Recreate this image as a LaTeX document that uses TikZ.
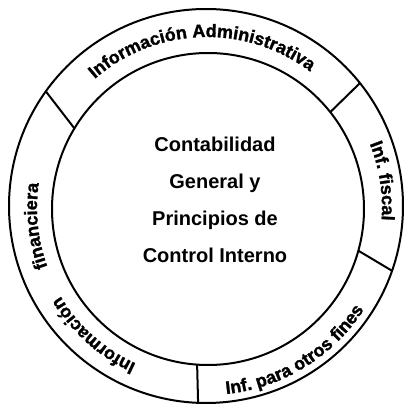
\documentclass[tikz,border=0pt]{standalone}
\usepackage{fontspec}
\setmainfont{Liberation Sans}
\newfontfamily\ringfam{Liberation Sans}[UprightFont={* Bold}, FakeBold=1.5]
\usetikzlibrary{decorations.text}
\begin{document}
\begin{tikzpicture}[x=1pt,y=1pt,
  ring/.style={line width=2pt},
  divider/.style={line width=2pt},
  arctext/.style={decorate, decoration={text along path, text align=center,
    text={|\ringfam\fontsize{18}{18}\selectfont|#1}}}]
\useasboundingbox (0,0) rectangle (404,405);
\coordinate (O) at (206,199);
\coordinate (I) at (208,196);
\coordinate (T) at (207,197);
% circles
\draw[ring] (O) circle[radius=197];
\draw[ring] (I) circle[radius=156];
% dividers
\coordinate (d1o) at ([shift={(144.4:197)}]O);
\coordinate (d1i) at ([shift={(148.9:156)}]I);
\coordinate (d2o) at ([shift={(38.6:197)}]O);
\coordinate (d2i) at ([shift={(38.4:156)}]I);
\coordinate (d3o) at ([shift={(-19.2:197)}]O);
\coordinate (d3i) at ([shift={(-15.5:156)}]I);
\coordinate (d4o) at ([shift={(-92.3:197)}]O);
\coordinate (d4i) at ([shift={(-94:156)}]I);
\draw[divider] (d1o) -- (d1i);
\draw[divider] (d2o) -- (d2i);
\draw[divider] (d3o) -- (d3i);
\draw[divider] (d4o) -- (d4i);
% ring texts
\path[arctext={Información Administrativa}]
  ([shift={(137.5:171)}]T) arc[start angle=137.5, end angle=46.5, radius=171];
\path[arctext={Inf. fiscal}]
  ([shift={(23:175)}]T) arc[start angle=23, end angle=-5.5, radius=175];
\path[arctext={Inf. para otros fines}]
  ([shift={(-87.5:187)}]T) arc[start angle=-87.5, end angle=-29.5, radius=187];
\path[arctext={Información}]
  ([shift={(248:171)}]T) arc[start angle=248, end angle=208.5, radius=171];
\path[arctext={financiera}]
  ([shift={(201.5:170)}]T) arc[start angle=201.5, end angle=170.5, radius=170];
% centre text
\node[align=center, font=\bfseries\fontsize{20}{37}\selectfont] (centro) at (215,205.5)
  {Contabilidad\\General y\\Principios de\\Control Interno};
\end{tikzpicture}
\end{document}
